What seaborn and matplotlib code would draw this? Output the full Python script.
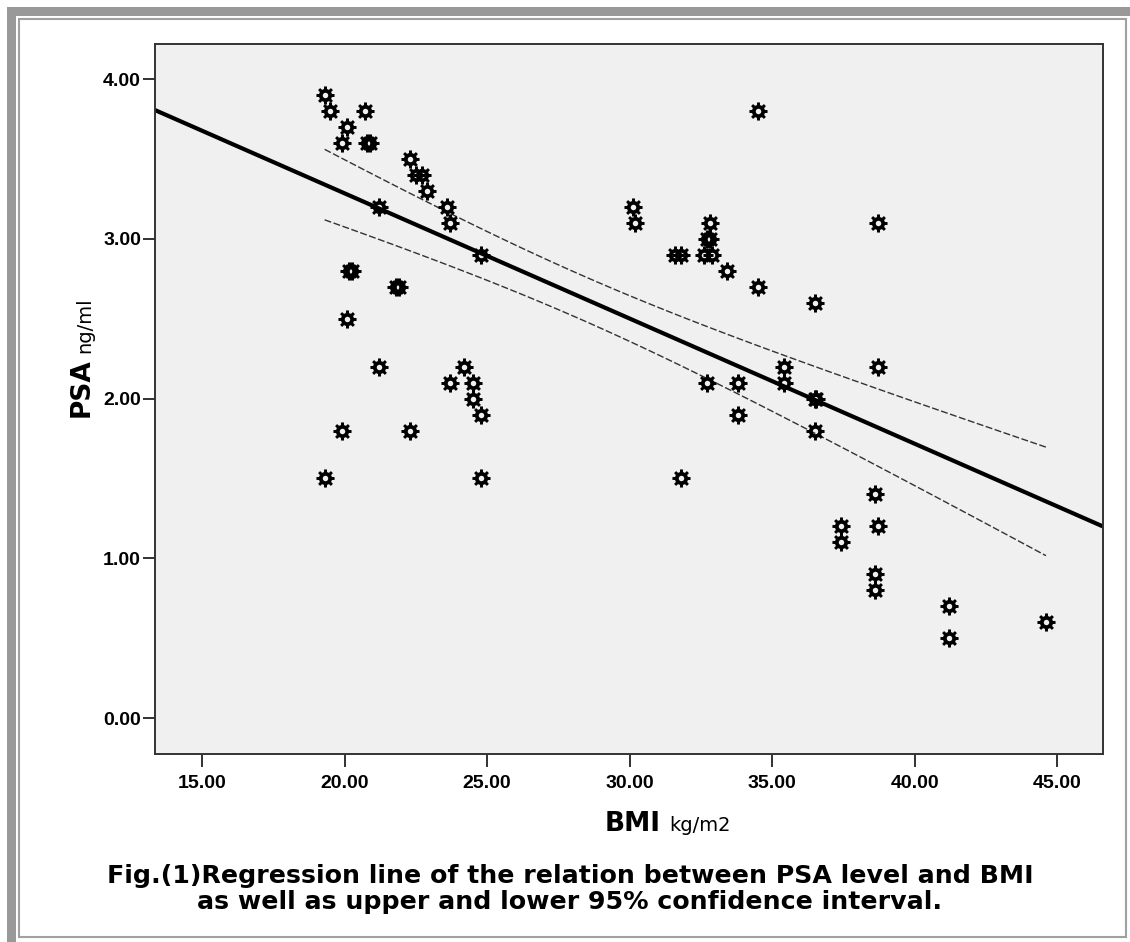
import numpy as np
import pandas as pd
import matplotlib
matplotlib.use("Agg")
import matplotlib.pyplot as plt
from matplotlib.path import Path
from matplotlib.patches import Rectangle
import seaborn as sns

# values (BMI kg/m2, PSA ng/ml)
bmi = [19.3, 19.5, 20.1, 19.9, 20.7, 20.8, 20.9, 22.3, 22.5, 22.7,
       22.9, 23.6, 23.7, 21.2, 20.15, 20.25, 24.8, 21.8, 21.9, 20.1,
       21.2, 24.2, 23.7, 24.5, 24.5, 24.8, 19.9, 22.3, 19.3, 24.8,
       30.1, 30.2, 31.6, 31.8, 32.6, 32.9, 32.7, 32.8, 32.8, 33.4,
       34.5, 34.5, 36.5, 38.7, 38.7, 35.4, 35.4, 32.7, 33.8, 33.8,
       36.5, 36.55, 36.5, 31.8, 38.6, 37.4, 38.7, 37.4, 38.6, 38.6,
       41.2, 41.2, 44.6]
psa = [3.9, 3.8, 3.7, 3.6, 3.8, 3.6, 3.6, 3.5, 3.4, 3.4,
       3.3, 3.2, 3.1, 3.2, 2.8, 2.8, 2.9, 2.7, 2.7, 2.5,
       2.2, 2.2, 2.1, 2.1, 2.0, 1.9, 1.8, 1.8, 1.5, 1.5,
       3.2, 3.1, 2.9, 2.9, 2.9, 2.9, 3.0, 3.0, 3.1, 2.8,
       2.7, 3.8, 2.6, 3.1, 2.2, 2.2, 2.1, 2.1, 2.1, 1.9,
       2.0, 2.0, 1.8, 1.5, 1.4, 1.2, 1.2, 1.1, 0.9, 0.8,
       0.7, 0.5, 0.6]

# regression summary as drawn in the figure (SPSS output, full sample)
fit_intercept = 4.853
fit_slope = -0.0784
fit_n = 63
fit_xmean = 28.3
fit_sxx = 3385.0
fit_se = 0.553
t_crit = 2.0

x_ticks = [15, 20, 25, 30, 35, 40, 45]
y_ticks = [0, 1, 2, 3, 4]
caption = ["Fig.(1)Regression line of the relation between PSA level and BMI",
           "as well as upper and lower 95% confidence interval."]

df = pd.DataFrame({"BMI": bmi, "PSA": psa})

W, H = 1130, 942


def gear_marker(n=8, r_out=1.0, r_in=0.72, r_hole=0.3):
    # gear with flat teeth and a hole in the middle (SPSS style marker)
    step = 2 * np.pi / n
    outer = []
    for k in range(n):
        c = np.pi / 2 + k * step
        for a, r in ((c - step * 0.3, r_in), (c - step * 0.2, r_out),
                     (c + step * 0.2, r_out), (c + step * 0.3, r_in)):
            outer.append((r * np.cos(a), r * np.sin(a)))
    outer = np.array(outer)
    ha = np.linspace(0, -2 * np.pi, 17)[:-1]
    hole = np.column_stack([r_hole * np.cos(ha), r_hole * np.sin(ha)])
    verts, codes = [], []
    for ring in (outer, hole):
        verts += list(ring) + [ring[0]]
        codes += [Path.MOVETO] + [Path.LINETO] * (len(ring) - 1) + [Path.CLOSEPOLY]
    return Path(np.array(verts), codes)


sns.set_style("ticks")
plt.rcParams["font.family"] = ["Liberation Sans", "DejaVu Sans"]
plt.rcParams["text.color"] = "black"
plt.rcParams["xtick.color"] = "black"
plt.rcParams["ytick.color"] = "black"
WIDE = ["DejaVu Sans"]

fig = plt.figure(figsize=(W / 100, H / 100), dpi=100)
ax = fig.add_axes([155 / W, 1 - 754 / H, (1103 - 155) / W, (754 - 44) / H])
ax.set_facecolor("#f0f0f0")
ax.set_xlim(13.35, 46.6)
ax.set_ylim(-0.225, 4.22)

sns.scatterplot(data=df, x="BMI", y="PSA", marker=gear_marker(), s=170,
                color="black", linewidth=0, ax=ax, zorder=3)

xl = np.array(ax.get_xlim())
ax.plot(xl, fit_intercept + fit_slope * xl, color="black", lw=3, zorder=2)

# 95% CI of the mean, over the observed BMI range
xc = np.linspace(df.BMI.min(), df.BMI.max(), 100)
yc = fit_intercept + fit_slope * xc
half = t_crit * fit_se * np.sqrt(1 / fit_n + (xc - fit_xmean) ** 2 / fit_sxx)
for sign in (1, -1):
    ax.plot(xc, yc + sign * half, color="#333333", lw=1.0,
            dashes=(5, 1.8), zorder=2)

ax.set_xticks(x_ticks)
ax.set_yticks(y_ticks)
ax.set_xticklabels([f"{v:.2f}" for v in x_ticks])
ax.set_yticklabels([f"{v:.2f}" for v in y_ticks])
for lab in ax.get_xticklabels() + ax.get_yticklabels():
    lab.set_fontweight("bold")
    lab.set_fontsize(14)
    lab.set_color("black")
ax.tick_params(axis="both", direction="out", length=9, width=1.3, color="#222222")
ax.tick_params(axis="x", pad=6)
ax.tick_params(axis="y", pad=1)
for sp in ax.spines.values():
    sp.set_visible(True)
    sp.set_color("#333333")
    sp.set_linewidth(1.4)
ax.set_xlabel("")
ax.set_ylabel("")

# axis titles: bold name plus small unit
fig.text(605 / W, 1 - 831 / H, "BMI", fontsize=19, fontweight="bold",
         family=WIDE, ha="left", va="baseline")
fig.text(669 / W, 1 - 831 / H, "kg/m2", fontsize=14, family=WIDE,
         ha="left", va="baseline")
fig.text(89 / W, 1 - 417 / H, "PSA", fontsize=19, fontweight="bold", family=WIDE,
         rotation=90, rotation_mode="anchor", ha="left", va="baseline")
fig.text(90 / W, 1 - 353 / H, "ng/ml", fontsize=14, family=WIDE,
         rotation=90, rotation_mode="anchor", ha="left", va="baseline")

fig.text(570 / W, 1 - 883 / H, caption[0], fontsize=18.2, fontweight="bold",
         family=WIDE, ha="center", va="baseline")
fig.text(570 / W, 1 - 909 / H, caption[1], fontsize=18.2, fontweight="bold",
         family=WIDE, ha="center", va="baseline")

# page frame
tr = fig.transFigure
fig.add_artist(Rectangle((7 / W, 1 - 16 / H), 1 - 7 / W, 9 / H,
                         color="#999999", lw=0, transform=tr))
fig.add_artist(Rectangle((7 / W, 0), 9 / W, 1 - 7 / H,
                         color="#999999", lw=0, transform=tr))
fig.add_artist(Rectangle((19 / W, 1 - 937 / H), (1126 - 19) / W, (937 - 19) / H,
                         fill=False, ec="#a0a0a0", lw=1.5, transform=tr))

fig.savefig("out.png", dpi=100)
